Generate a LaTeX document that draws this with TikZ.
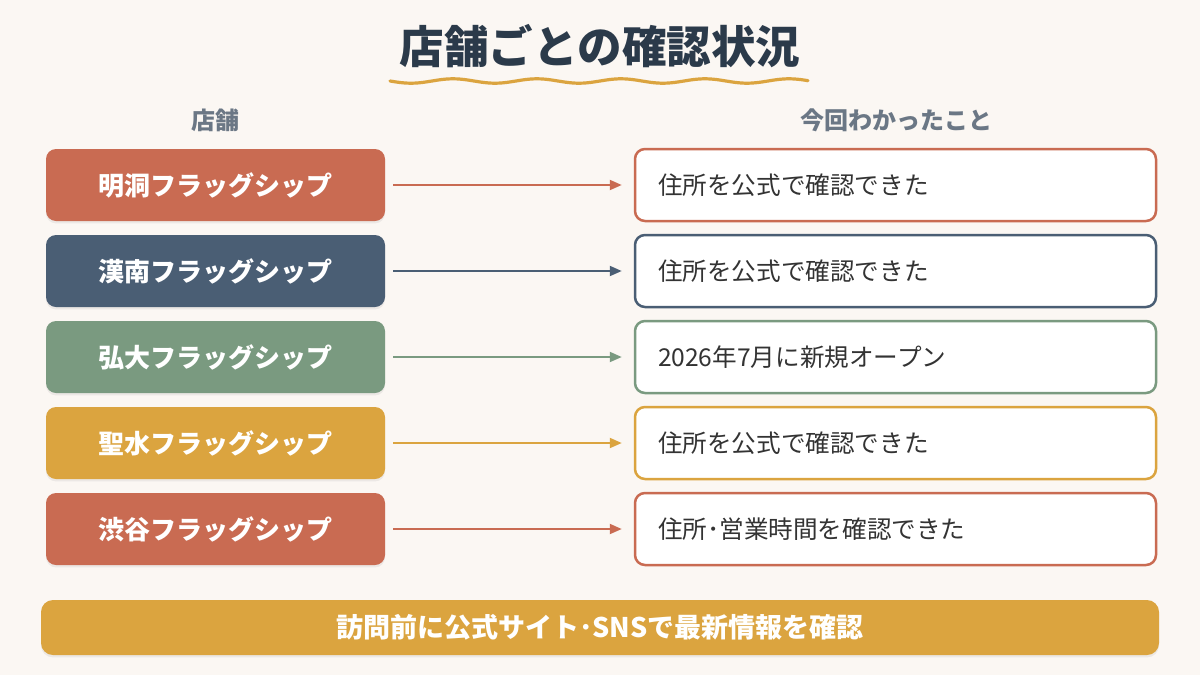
\documentclass[tikz,border=0pt]{standalone}
\usepackage{fontspec}
\setmainfont{Noto Sans CJK JP}
\usetikzlibrary{arrows.meta,shadows}
\definecolor{bg}{HTML}{FBF7F3}
\definecolor{terra}{HTML}{C96B52}
\definecolor{navy}{HTML}{4A5E74}
\definecolor{sage}{HTML}{7A9A80}
\definecolor{gold}{HTML}{DBA43F}
\definecolor{titlec}{HTML}{2B3A4A}
\definecolor{headc}{HTML}{6B7785}
\definecolor{bodyc}{HTML}{333333}
\tikzset{
  store/.style={fill=#1, rounded corners=5pt, minimum width=169.5pt, minimum height=36pt,
    text=white, font=\fontsize{13}{15}\selectfont\bfseries, inner sep=0pt,
    drop shadow={shadow xshift=0pt, shadow yshift=-1.2pt, opacity=0.12}},
  info/.style={draw=#1, line width=1.25pt, fill=white, rounded corners=5pt, minimum width=260.5pt,
    minimum height=36pt, text width=237.5pt, align=left, inner xsep=11.5pt, inner ysep=0pt,
    text=bodyc, font=\fontsize{12.3}{14}\selectfont},
  conn/.style={draw=#1, line width=1pt, -{Triangle[length=6pt,width=5pt]}, shorten <=4pt, shorten >=6pt},
  head/.style={text=headc, font=\fontsize{12}{14}\selectfont\bfseries},
}
\begin{document}
\begin{tikzpicture}[x=0.5pt,y=-0.5pt]
\useasboundingbox (0,0) rectangle (1200,675);
\fill[bg] (0,0) rectangle (1200,675);
\node[text=titlec, font=\fontsize{22.3}{26}\selectfont\bfseries] (title) at (600,46) {店舗ごとの確認状況};
\draw[gold, line width=1.6pt, line cap=round] plot[domain=390:808, samples=120] (\x, {81+2.2*sin(((\x-390)/84)*360)});
\node[head] (h1) at (215,120) {店舗};
\node[head] (h2) at (896,120) {今回わかったこと};

\node[store=terra] (s1) at (215.5,185) {明洞フラッグシップ};
\node[store=navy]  (s2) at (215.5,271) {漢南フラッグシップ};
\node[store=sage]  (s3) at (215.5,357) {弘大フラッグシップ};
\node[store=gold]  (s4) at (215.5,443) {聖水フラッグシップ};
\node[store=terra] (s5) at (215.5,529) {渋谷フラッグシップ};

\node[info=terra] (r1) at (895.5,185) {住所を公式で確認できた};
\node[info=navy]  (r2) at (895.5,271) {住所を公式で確認できた};
\node[info=sage]  (r3) at (895.5,357) {2026年7月に新規オープン};
\node[info=gold]  (r4) at (895.5,443) {住所を公式で確認できた};
\node[info=terra] (r5) at (895.5,529) {住所･営業時間を確認できた};

\draw[conn=terra] (s1) -- (r1);
\draw[conn=navy]  (s2) -- (r2);
\draw[conn=sage]  (s3) -- (r3);
\draw[conn=gold]  (s4) -- (r4);
\draw[conn=terra] (s5) -- (r5);

\node[fill=gold, rounded corners=6pt, minimum width=559pt, minimum height=27.5pt, inner sep=0pt,
  text=white, font=\fontsize{13.5}{15}\selectfont\bfseries,
  drop shadow={shadow xshift=0pt, shadow yshift=-1.2pt, opacity=0.12}] (note) at (600,627.5)
  {訪問前に公式サイト･SNSで最新情報を確認};
\end{tikzpicture}
\end{document}
